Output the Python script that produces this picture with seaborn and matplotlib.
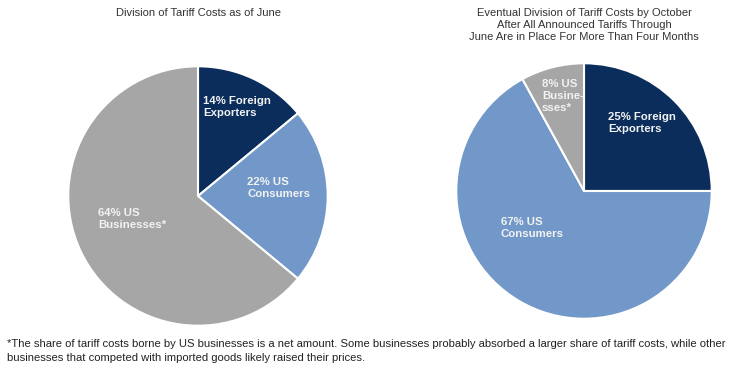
import matplotlib
matplotlib.use("Agg")
import matplotlib.pyplot as plt
import seaborn as sns

sns.set_theme(style="white")
plt.rcParams['font.family'] = ['Liberation Sans', 'DejaVu Sans']

categories = ["Foreign Exporters", "US Consumers", "US Businesses"]
june_values = [14, 22, 64]
october_values = [25, 67, 8]
june_labels = ["14% Foreign\nExporters", "22% US\nConsumers", "64% US\nBusinesses*"]
october_labels = ["25% Foreign\nExporters", "67% US\nConsumers", "8% US\nBusine-\nsses*"]
title_june = "Division of Tariff Costs as of June"
title_october = ("Eventual Division of Tariff Costs by October\n"
                 "After All Announced Tariffs Through\n"
                 "June Are in Place For More Than Four Months")
footnote = ("*The share of tariff costs borne by US businesses is a net amount. Some businesses probably absorbed a larger share of tariff costs, while other\n"
            "businesses that competed with imported goods likely raised their prices.")

colors = sns.color_palette(["#0B2D5C", "#7198C8", "#A6A6A6"])

fig = plt.figure(figsize=(7.41, 3.69), dpi=100)
W, H = 741, 369

def add_pie(cx, cy, r, values, labels, label_pos):
    ax = fig.add_axes([(cx - r) / W, (H - cy - r) / H, 2 * r / W, 2 * r / H])
    ax.pie(values, colors=colors, startangle=90, counterclock=False,
           wedgeprops=dict(edgecolor="white", linewidth=1.5), radius=1)
    ax.set_xlim(-1.01, 1.01)
    ax.set_ylim(-1.01, 1.01)
    ax.set_aspect("equal")
    ax.axis("off")
    for lab, (x, y) in zip(labels, label_pos):
        ax.text(x, y, lab, color="#F2F2F2", fontsize=8.2, fontweight="bold",
                ha="left", va="center", linespacing=1.25)
    return ax

add_pie(198, 196, 131, june_values, june_labels,
        [(0.04, 0.69), (0.38, 0.06), (-0.77, -0.18)])
add_pie(584, 191, 129, october_values, october_labels,
        [(0.19, 0.53), (-0.65, -0.29), (-0.33, 0.74)])

fig.text(198 / W, 1 - 13 / H, title_june, ha="center", va="center",
         fontsize=8, color="#333333")
fig.text(584 / W, 1 - 25 / H, title_october, ha="center", va="center",
         fontsize=8, color="#333333", linespacing=1.3)
fig.text(7 / W, 1 - 351 / H, footnote, ha="left", va="center",
         fontsize=8.1, color="#222222", linespacing=1.45)

fig.savefig("out.png", dpi=100)
